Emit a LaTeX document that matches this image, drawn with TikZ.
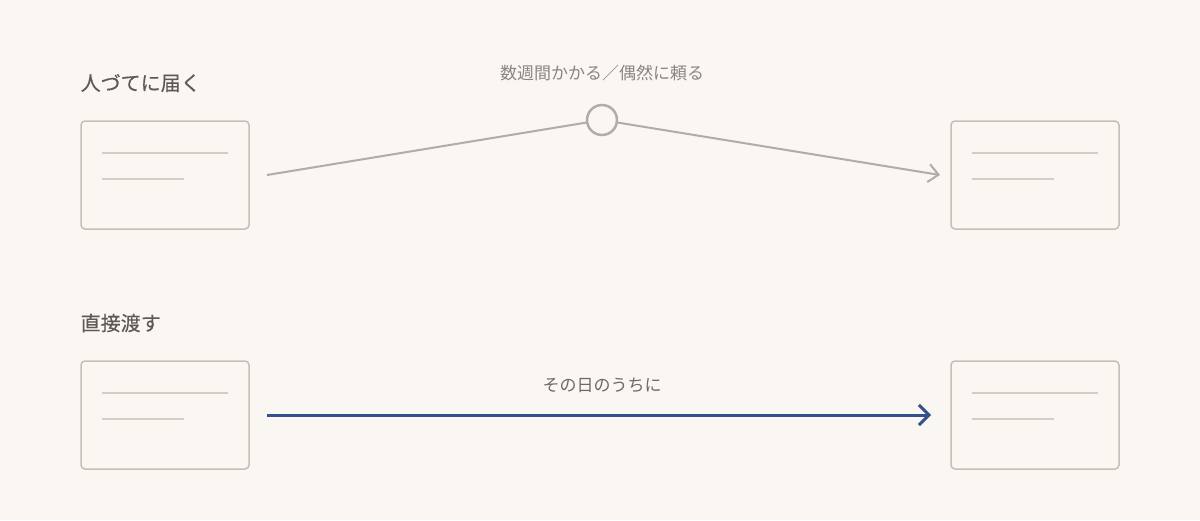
\documentclass[tikz,border=0pt]{standalone}
\usepackage{fontspec}
\setmainfont{Noto Sans CJK JP}
\newfontfamily\titlefont[FakeBold=0.3]{Noto Sans CJK JP}
\usetikzlibrary{arrows.meta}
\definecolor{bg}{HTML}{FAF6F1}
\definecolor{boxc}{HTML}{C4BFB9}
\definecolor{linec}{HTML}{D2CDC6}
\definecolor{grayc}{HTML}{B0ACA7}
\definecolor{bluec}{HTML}{34508F}
\definecolor{titlec}{HTML}{5E5955}
\definecolor{labc}{HTML}{8A8581}
\definecolor{lab2c}{HTML}{6E6964}
\tikzset{
  card/.style={draw=boxc, line width=1.5pt, rounded corners=4pt, minimum width=168pt, minimum height=108pt, inner sep=0pt, fill=bg},
  rule/.style={draw=linec, line width=2pt},
  title/.style={text=titlec, font=\titlefont\fontsize{20pt}{22pt}\selectfont, anchor=west, inner sep=0pt},
  lab/.style={text=labc, font=\fontsize{17pt}{20pt}\selectfont, inner sep=0pt},
  slow/.style={draw=grayc, line width=2pt, -{Straight Barb[length=10pt,width=18pt,line width=2pt]}},
  fast/.style={draw=bluec, line width=3pt, -{Straight Barb[length=10pt,width=20pt,line width=3pt]}},
  hub/.style={circle, draw=grayc, line width=2.5pt, minimum size=30pt, inner sep=0pt, fill=bg}
}
\begin{document}
\begin{tikzpicture}[x=1pt,y=-1pt]
\useasboundingbox[fill=bg] (0,0) rectangle (1200,520);
% titles
\node[title] (t1) at (80.5,83) {人づてに届く};
\node[title] (t2) at (80.5,323) {直接渡す};
% cards
\node[card] (a1) at (165,175) {};
\node[card] (b1) at (1035,175) {};
\node[card] (a2) at (165,415) {};
\node[card] (b2) at (1035,415) {};
\foreach \n in {a1,b1,a2,b2}{
  \draw[rule] ([xshift=21.5pt,yshift=-33pt]\n.north west) -- ++(126,0);
  \draw[rule] ([xshift=21.5pt,yshift=-59pt]\n.north west) -- ++(82,0);
}
% top route
\node[hub] (h) at (602,120) {};
\node[lab] (l1) at (602,73) {数週間かかる／偶然に頼る};
\coordinate (s1) at (267,175);
\coordinate (e1) at (940,175);
\draw[draw=grayc, line width=2pt] (s1) -- (h);
\draw[slow] (h) -- (e1);
% bottom route
\node[lab, text=lab2c] (l2) at (602,385) {その日のうちに};
\coordinate (s2) at (267,415);
\coordinate (e2) at (931,415);
\draw[fast] (s2) -- (e2);
\end{tikzpicture}
\end{document}
